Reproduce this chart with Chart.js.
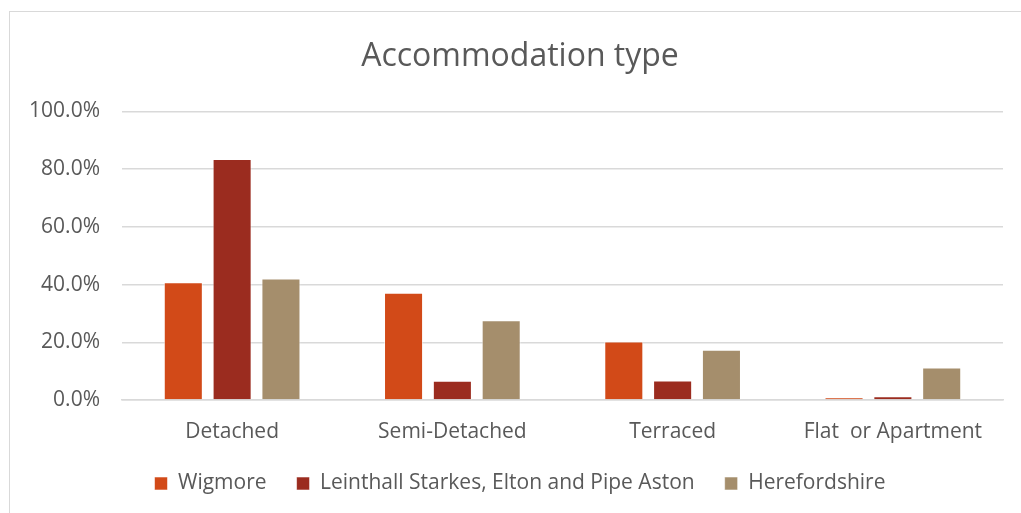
<!DOCTYPE html>
<html>
<head>
<meta charset="utf-8">
<script src="https://cdn.jsdelivr.net/npm/chart.js@4/dist/chart.umd.min.js"></script>
<style>
  html, body { margin: 0; padding: 0; background: #fff; overflow: hidden; width: 1021px; height: 513px; }
  #frame { position: absolute; left: 9px; top: 11px; width: 1020px; height: 510px;
           border-left: 1px solid #d9d9d9; border-top: 1px solid #d9d9d9; }
  #chart { display: block; }
</style>
</head>
<body>
<div id="frame"><canvas id="chart" width="1020" height="510"></canvas></div>
<script>
(function () {
  'use strict';

  var TEXT = '#595959', GRID = '#d9d9d9';

  var categories = ['Detached', 'Semi-Detached', 'Terraced', 'Flat  or Apartment'];
  var seriesNames = ['Wigmore', 'Leinthall Starkes, Elton and Pipe Aston', 'Herefordshire'];
  var wigmore = [40.8, 37.2, 20.3, 0.9];
  var leinthall = [83.5, 6.7, 6.8, 1.3];
  var herefordshire = [42.1, 27.6, 17.4, 11.3];
  var colours = ['#D24A18', '#9B2C1F', '#A58E6C'];
  var yTicks = [0, 20, 40, 60, 80, 100];

  Chart.defaults.font.family = "'Open Sans', 'Noto Sans', sans-serif";
  Chart.defaults.color = TEXT;

  function ds(i, values) {
    return {
      label: seriesNames[i],
      data: values,
      backgroundColor: colours[i],
      borderColor: 'rgba(255,255,255,0.55)',
      borderWidth: 1,
      categoryPercentage: 0.665,
      barPercentage: 0.8
    };
  }

  new Chart(document.getElementById('chart'), {
    type: 'bar',
    data: {
      labels: categories,
      datasets: [ds(0, wigmore), ds(1, leinthall), ds(2, herefordshire)]
    },
    options: {
      responsive: false,
      animation: false,
      layout: { padding: { left: 0, right: 0, top: 0, bottom: 18 } },
      plugins: {
        title: {
          display: true,
          text: 'Accommodation type',
          color: TEXT,
          font: { size: 32, weight: 'normal' },
          padding: { top: 26, bottom: 35 }
        },
        legend: {
          position: 'bottom',
          labels: {
            color: TEXT,
            font: { size: 21 },
            boxWidth: 13,
            boxHeight: 13,
            padding: 30
          }
        },
        tooltip: { enabled: false }
      },
      scales: {
        x: {
          afterFit: function (s) { s.height = 43; },
          grid: { display: false, drawTicks: false },
          border: { display: true, color: GRID, width: 1.5 },
          ticks: { color: TEXT, font: { size: 21 }, padding: 19, maxRotation: 0, autoSkip: false }
        },
        y: {
          min: 0,
          max: 100,
          afterFit: function (s) { s.width = 112; },
          afterBuildTicks: function (s) { s.ticks = yTicks.map(function (v) { return { value: v }; }); },
          grid: { color: GRID, lineWidth: 1.5, drawTicks: false },
          border: { display: false },
          ticks: {
            color: TEXT, font: { size: 21 }, padding: 22,
            callback: function (v) { return v.toFixed(1) + '%'; }
          }
        },
        // empty right-hand margin so the title stays centred on the whole frame
        yRight: {
          position: 'right',
          afterFit: function (s) { s.width = 27; },
          grid: { display: false, drawTicks: false },
          border: { display: false },
          ticks: { display: false }
        }
      }
    }
  });
})();
</script>
</body>
</html>
